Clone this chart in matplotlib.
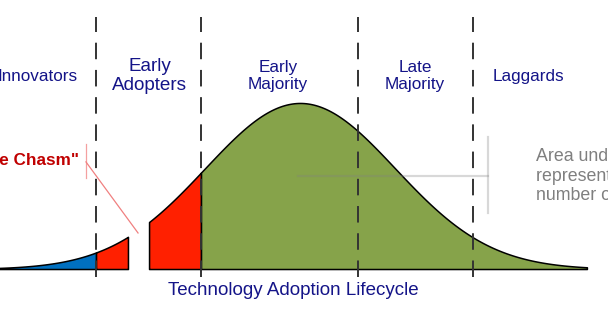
import numpy as np
import matplotlib
matplotlib.use("Agg")
import matplotlib.pyplot as plt

plt.rcParams['font.family'] = ['Liberation Sans', 'DejaVu Sans']

# ---- data (x in standard-deviation units of the adoption bell curve) ----
categories = ["Innovators", "Early\nAdopters", "Early\nMajority", "Late\nMajority", "Laggards"]
category_x = [-2.76, -1.58, -0.23, 1.21, 2.40]
divider_x = [-2.147, -1.042, 0.611, 1.821]

seg_start = [-3.6, -2.147, -1.589, -1.042]
seg_end = [-2.147, -1.811, -1.042, 3.02]
seg_color = ["#0070C0", "#FF2000", "#FF2000", "#86A34A"]

title = "Technology Adoption Lifecycle"
chasm_label = '"The Chasm"'
area_note = "Area under the curve\nrepresents the\nnumber of customers"


def bell(x):
    return np.exp(-0.5 * x ** 2)


fig = plt.figure(figsize=(6.08, 3.19), dpi=100)
ax = fig.add_axes([0, 0, 1, 1])
ax.set_xlim(-3.158, 3.242)
ax.set_ylim(-0.301, 1.620)
ax.axis('off')

# curve segments
for s, e, c in zip(seg_start, seg_end, seg_color):
    xs = np.linspace(s, e, 200)
    ax.fill_between(xs, 0, bell(xs), facecolor=c, edgecolor='black',
                    linewidth=1.1, zorder=2)

# dividers
for dx in divider_x:
    ax.plot([dx, dx], [-0.048, 1.518], color='#333333', lw=1.4,
            dashes=(8.5, 5.5), zorder=3)

# category labels
for lab, cx in zip(categories, category_x):
    size = 13.6 if lab.startswith("Early\nA") else 12.3
    ax.text(cx, 1.162, lab, ha='center', va='center', color='#141488',
            fontsize=size, linespacing=1.22, zorder=4)

# title
ax.text(-0.068, -0.128, title, ha='center', va='center', color='#141488',
        fontsize=13.5, zorder=4)

# chasm annotation
ax.text(-2.326, 0.651, chasm_label, ha='right', va='center', color='#C00000',
        fontsize=12.3, fontweight='bold', zorder=4)
ax.plot([-2.253, -2.253], [0.548, 0.753], color='#F4A0A0', lw=0.9, zorder=4)
ax.plot([-2.253, -1.705], [0.645, 0.217], color='#F08080', lw=0.9, zorder=4)

# area annotation
ax.plot([-0.021, 1.979], [0.560, 0.560], color='#808080', alpha=0.3, lw=1.6, zorder=4)
ax.plot([1.979, 1.979], [0.337, 0.795], color='#808080', alpha=0.3, lw=1.6, zorder=4)
ax.text(2.484, 0.560, area_note, ha='left', va='center', color='#7F7F7F',
        fontsize=12.8, linespacing=1.2, zorder=4)

fig.savefig("out.png", dpi=100)
